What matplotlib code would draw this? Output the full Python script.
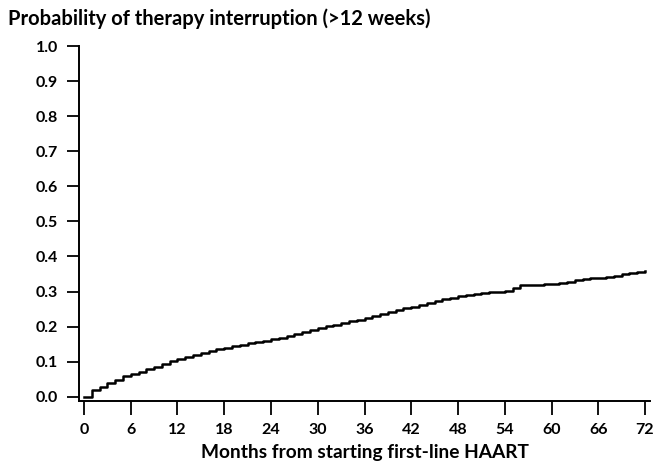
import numpy as np
import matplotlib
matplotlib.use("Agg")
import matplotlib.pyplot as plt

# monthly step values
months = np.arange(0, 73)
prob = [
    0.000, 0.020, 0.027, 0.039, 0.048, 0.058, 0.066, 0.072, 0.080, 0.086,
    0.094, 0.101, 0.107, 0.113, 0.120, 0.125, 0.130, 0.135, 0.140, 0.144,
    0.148, 0.152, 0.156, 0.160, 0.164, 0.169, 0.174, 0.179, 0.185, 0.191,
    0.196, 0.201, 0.206, 0.210, 0.215, 0.220, 0.225, 0.231, 0.237, 0.243,
    0.248, 0.253, 0.257, 0.262, 0.267, 0.273, 0.278, 0.283, 0.287, 0.290,
    0.293, 0.296, 0.298, 0.300, 0.303, 0.310, 0.318, 0.319, 0.320, 0.321,
    0.322, 0.325, 0.328, 0.333, 0.336, 0.338, 0.340, 0.342, 0.345, 0.349,
    0.353, 0.356, 0.360,
]
x_ticks = np.arange(0, 73, 6)
y_ticks = np.round(np.arange(0, 1.01, 0.1), 1)

plt.rcParams['font.family'] = ['Lato', 'DejaVu Sans']
plt.rcParams['font.weight'] = 'bold'

fig = plt.figure(figsize=(6.54, 4.62), dpi=100)
# axes box: spines at x=79..650 px, y=46..401 px
ax = fig.add_axes([79 / 654, 1 - 401 / 462, 571 / 654, 355 / 462])

ax.step(months, prob, where='post', color='black', lw=1.8)

ax.set_xlim(-0.64, 72.64)
ax.set_ylim(-0.012, 1.0)
ax.set_xticks(x_ticks)
ax.set_yticks(y_ticks)
ax.set_yticklabels([f"{v:.1f}" for v in y_ticks])

for s in ['top', 'right']:
    ax.spines[s].set_visible(False)
for s in ['left', 'bottom']:
    ax.spines[s].set_linewidth(1.4)

ax.tick_params(axis='both', direction='out', width=1.3, labelsize=11.5)
ax.tick_params(axis='x', length=10, pad=6)
ax.tick_params(axis='y', length=9, pad=6)

ax.set_xlabel('Months from starting first-line HAART', fontsize=13.8, fontweight='bold', labelpad=5)
fig.text(0.012, 0.982, 'Probability of therapy interruption (>12 weeks)',
         fontsize=14.5, fontweight='bold', ha='left', va='top')

fig.savefig('out.png', dpi=100)
